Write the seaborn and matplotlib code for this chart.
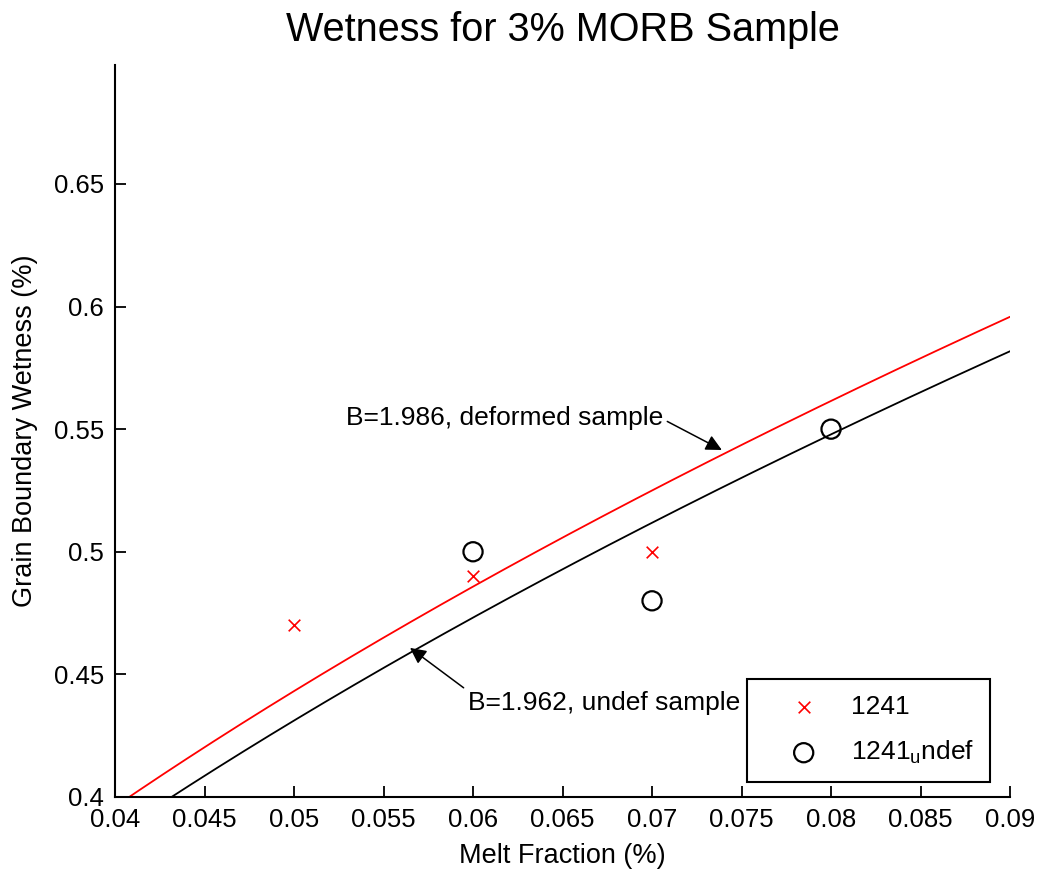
import numpy as np
import pandas as pd
import matplotlib
matplotlib.use("Agg")
import matplotlib.pyplot as plt
import seaborn as sns

# Measured wetness, deformed sample 1241
melt_def = [0.05, 0.06, 0.07]
wet_def = [0.47, 0.49, 0.50]

# Measured wetness, undeformed sample 1241
melt_undef = [0.06, 0.07, 0.08]
wet_undef = [0.50, 0.48, 0.55]

# Power-law fits: wetness = A * melt^(1/B)
B_def, A_def = 1.986, 2.003
B_undef, A_undef = 1.962, 1.985

x_ticks = [0.04, 0.045, 0.05, 0.055, 0.06, 0.065, 0.07, 0.075, 0.08, 0.085, 0.09]
x_tick_labels = ["0.04", "0.045", "0.05", "0.055", "0.06", "0.065", "0.07",
                 "0.075", "0.08", "0.085", "0.09"]
y_ticks = [0.4, 0.45, 0.5, 0.55, 0.6, 0.65]
y_tick_labels = ["0.4", "0.45", "0.5", "0.55", "0.6", "0.65"]

sns.set_theme(style="white")
plt.rcParams["font.family"] = ["Liberation Sans", "DejaVu Sans"]
plt.rcParams["mathtext.fontset"] = "custom"
plt.rcParams["mathtext.rm"] = "Liberation Sans"
plt.rcParams["text.color"] = "black"
plt.rcParams["axes.labelcolor"] = "black"
plt.rcParams["xtick.color"] = "black"
plt.rcParams["ytick.color"] = "black"

fig = plt.figure(figsize=(10.4, 8.76), dpi=100)
ax = fig.add_axes([0.1106, 0.0902, 0.8606, 0.8356])

melt_grid = np.linspace(0.04, 0.09, 300)
fits = pd.DataFrame({
    "melt": melt_grid,
    "def": A_def * melt_grid ** (1.0 / B_def),
    "undef": A_undef * melt_grid ** (1.0 / B_undef),
})

sns.lineplot(data=fits, x="melt", y="def", color="#ff0000", linewidth=1.3,
             ax=ax, legend=False)
sns.lineplot(data=fits, x="melt", y="undef", color="black", linewidth=1.3,
             ax=ax, legend=False)

sns.scatterplot(x=melt_def, y=wet_def, marker="x", color="#ff0000", s=70,
                linewidth=1.2, ax=ax, label="1241", zorder=3)
sns.scatterplot(x=melt_undef, y=wet_undef, marker="o", facecolor="none",
                edgecolor="black", s=190, linewidth=1.6, ax=ax,
                label="1241$_{\\mathrm{u}}$ndef", zorder=3)

ax.set_xlim(0.04, 0.09)
ax.set_ylim(0.4, 0.6985)
ax.set_xticks(x_ticks)
ax.set_xticklabels(x_tick_labels)
ax.set_yticks(y_ticks)
ax.set_yticklabels(y_tick_labels)

for side in ("top", "right"):
    ax.spines[side].set_visible(False)
for side in ("left", "bottom"):
    ax.spines[side].set_color("black")
    ax.spines[side].set_linewidth(1.5)

ax.tick_params(axis="both", direction="in", length=8, width=1.3,
               colors="black", labelsize=18.5, pad=8,
               left=True, bottom=True, top=False, right=False)

ax.set_xlabel("Melt Fraction (%)", fontsize=19.5, labelpad=8)
ax.set_ylabel("Grain Boundary Wetness (%)", fontsize=19.5, labelpad=11)
ax.set_title("Wetness for 3% MORB Sample", fontsize=28.5, pad=17)

ax.annotate("B=1.986, deformed sample", xy=(0.0739, 0.5415),
            xytext=(0.0706, 0.5546), ha="right", va="center", fontsize=19,
            arrowprops=dict(arrowstyle="-|>", color="black", lw=1.1,
                            mutation_scale=24, shrinkA=1, shrinkB=0,
                            relpos=(1.0, 0.45)))
ax.annotate("B=1.962, undef sample", xy=(0.05648, 0.4608),
            xytext=(0.05972, 0.4383), ha="left", va="center", fontsize=19,
            arrowprops=dict(arrowstyle="-|>", color="black", lw=1.1,
                            mutation_scale=24, shrinkA=1, shrinkB=0,
                            relpos=(0.0, 1.0)))

leg = ax.legend(loc="lower right", bbox_to_anchor=(0.978, 0.0205),
                borderaxespad=0, fontsize=19, frameon=True, fancybox=False,
                handletextpad=0.25, borderpad=0.6, labelspacing=0.75,
                handlelength=3.1)
leg.get_frame().set_edgecolor("black")
leg.get_frame().set_linewidth(1.5)
leg.get_frame().set_alpha(1)

fig.savefig("out.png", dpi=100, facecolor="white")
